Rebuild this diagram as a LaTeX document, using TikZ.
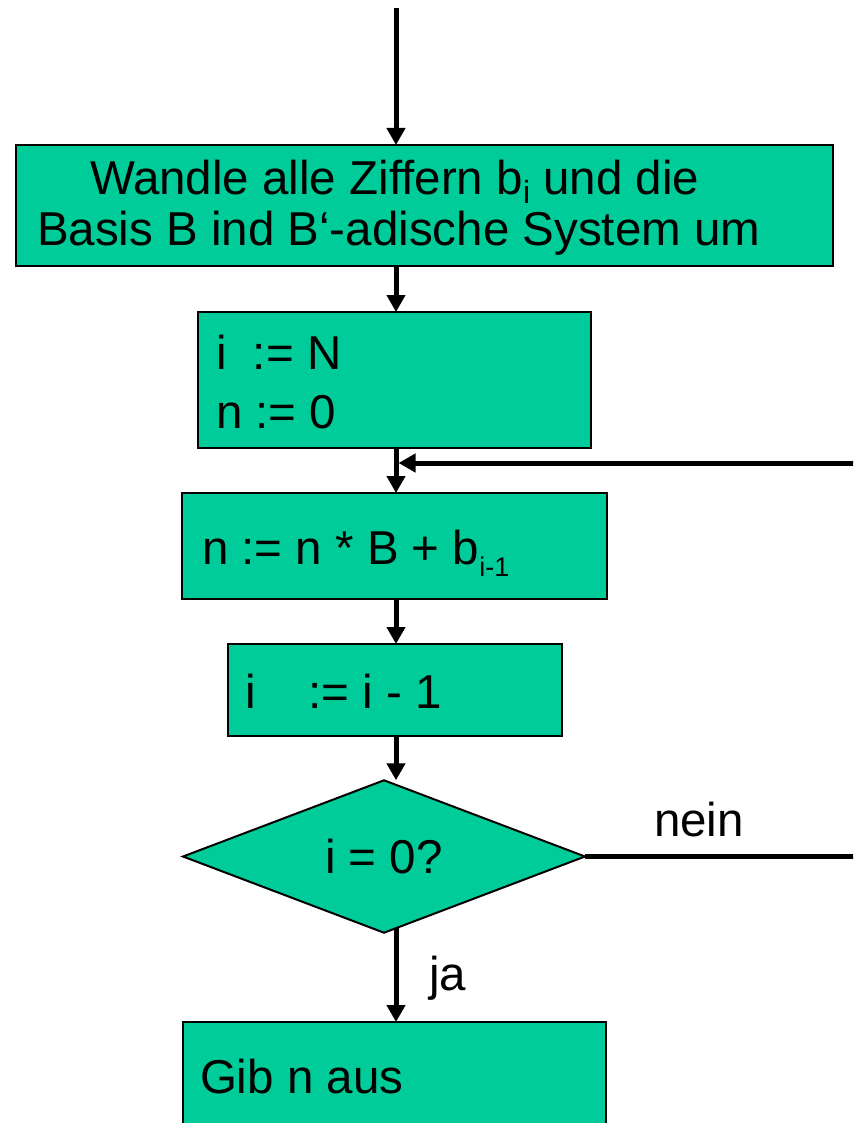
\documentclass[tikz,border=0pt]{standalone}
\usepackage{fontspec}
\setmainfont{Liberation Sans}
\usetikzlibrary{arrows.meta,shapes.geometric}
\definecolor{flowgreen}{RGB}{0,204,153}
\newcommand{\mysub}[3]{\raisebox{-#2pt}{\fontsize{#1}{#1}\selectfont #3}}
\begin{document}
\begin{tikzpicture}[x=1pt,y=-1pt,
  box/.style={draw=black,line width=2pt,fill=flowgreen,inner sep=0pt,outer sep=0pt,anchor=north west},
  txt/.style={inner sep=0pt,outer sep=0pt,anchor=base west,font=\fontsize{47.5}{50}\selectfont},
  arr/.style={line width=5pt,-{Triangle[width=18pt,length=17pt]}},
  plain/.style={line width=5pt}]
\useasboundingbox (0,0) rectangle (853,1123);
\clip (0,0) rectangle (853,1123);
% boxes
\node[box,minimum width=817pt,minimum height=121pt] (b1) at (16,145) {};
\node[box,minimum width=393pt,minimum height=136pt] (b2) at (198,312) {};
\node[box,minimum width=425pt,minimum height=106pt] (b3) at (182,493) {};
\node[box,minimum width=334pt,minimum height=92pt] (b4) at (228,644) {};
\node[draw=black,line width=2pt,fill=flowgreen,shape=diamond,inner sep=0pt,outer sep=0pt,
      minimum width=402pt,minimum height=151pt,font=\fontsize{47.5}{50}\selectfont] (dia) at (384,856.5) {i = 0?};
\node[box,minimum width=423pt,minimum height=140pt] (b5) at (183,1022) {};
% texts
\node[txt] (t1a) at (90,195) {Wandle alle Ziffern b\mysub{32}{9}{i} und die};
\node[txt] (t1b) at (37,245) {Basis B ind B‘-adische System um};
\node[txt] (t2a) at (216,369) {i~~:= N};
\node[txt] (t2b) at (216,428) {n := 0};
\node[txt] (t3) at (202,564) {n := n * B + b\mysub{27}{12}{i-1}};
\node[txt] (t4) at (245,708) {i~~~~:= i - 1};
\node[txt] (t5) at (200,1093) {Gib n aus};
\node[txt] (nein) at (654,836) {nein};
\node[txt] (ja) at (429,990) {ja};
% connectors
\coordinate (top) at (396,8);
\coordinate (loopR) at (860,463);
\draw[arr] (top) -- (top |- b1.north);
\draw[arr] (b1.south -| top) -- (b2.north -| top);
\draw[arr] (b2.south -| top) -- (b3.north -| top);
\draw[arr] (b3.south -| top) -- (b4.north -| top);
\draw[arr] (b4.south -| top) -- (dia.north -| top);
\draw[arr] ([yshift=5pt]dia.south -| top) -- (b5.north -| top);
\draw[arr] (loopR) -- ([xshift=2.5pt]loopR -| top);
\draw[plain] (dia.east) -- (dia.east -| loopR);
\end{tikzpicture}
\end{document}
